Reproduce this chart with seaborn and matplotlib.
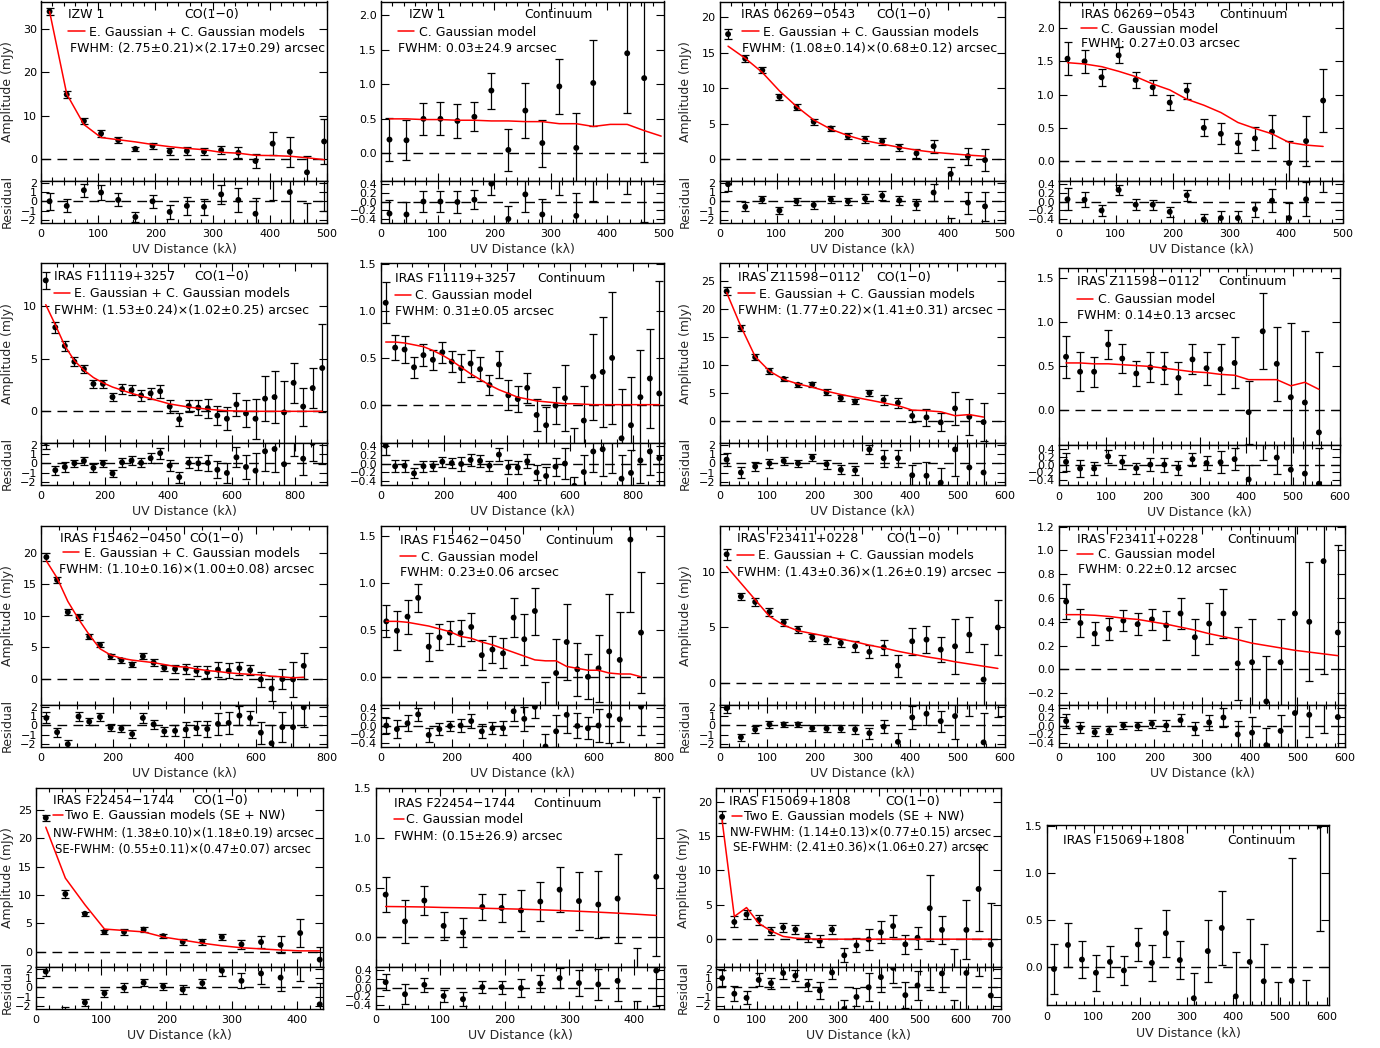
import numpy as np
import pandas as pd
import matplotlib
matplotlib.use("Agg")
import matplotlib.pyplot as plt
from matplotlib.lines import Line2D
from matplotlib.ticker import MultipleLocator, AutoMinorLocator, FuncFormatter, NullLocator
import seaborn as sns

# ---------------------------------------------------------------- data
# IZW 1 CO(1-0)
izw1_co_uv = [15, 45, 75, 105, 135, 165, 195, 225, 255, 285, 315, 345, 375, 405, 435, 465, 495]
izw1_co_amp = [34.0, 14.9, 8.8, 5.9, 4.4, 2.4, 3.1, 1.8, 1.9, 1.8, 2.1, 1.5, -0.4, 3.6, 1.7, -3.0, 4.1]
izw1_co_err = [0.9, 0.7, 0.7, 0.8, 0.7, 0.5, 0.7, 0.8, 1.0, 0.9, 1.0, 1.3, 1.7, 2.6, 3.4, 3.8, 5.2]
izw1_co_model = [34.0, 15.0, 8.0, 5.0, 4.5, 4.0, 3.4, 2.9, 2.5, 2.2, 1.6, 1.4, 0.9, 0.85, 0.7, 0.35, -0.1]
izw1_co_res = [0.0, -0.5, 1.2, 0.95, 0.15, -1.7, 0.0, -1.15, -0.5, -0.6, 0.75, 0.15, -1.35, 2.7, 1.0, -4.0, 4.2]

# IZW 1 continuum
izw1_ct_uv = [15, 45, 75, 105, 135, 165, 195, 225, 255, 285, 315, 345, 375, 435, 465]
izw1_ct_amp = [0.20, 0.19, 0.50, 0.50, 0.47, 0.53, 0.91, 0.05, 0.62, 0.15, 0.97, 0.08, 1.02, 1.45, 1.09]
izw1_ct_err = [0.31, 0.29, 0.23, 0.24, 0.24, 0.21, 0.26, 0.30, 0.40, 0.34, 0.40, 0.50, 0.62, 0.86, 1.21]
izw1_ct_model_uv = [15, 45, 75, 105, 135, 165, 195, 225, 255, 285, 315, 345, 375, 405, 435, 465, 495]
izw1_ct_model = [0.50, 0.50, 0.49, 0.49, 0.48, 0.48, 0.47, 0.47, 0.46, 0.46, 0.43, 0.43, 0.39, 0.42, 0.42, 0.33, 0.25]
izw1_ct_res = [-0.27, -0.29, 0.0, 0.0, -0.01, 0.04, 0.40, -0.39, 0.16, -0.29, 0.55, -0.32, 0.63, 1.03, 0.76]

# IRAS 06269-0543 CO(1-0)
i06269_co_uv = [15, 45, 75, 105, 135, 165, 195, 225, 255, 285, 315, 345, 375, 405, 435, 465]
i06269_co_amp = [17.6, 14.15, 12.5, 8.76, 7.3, 5.25, 4.3, 3.2, 2.75, 2.5, 1.65, 0.8, 1.8, -2.1, 0.4, -0.15]
i06269_co_err = [0.7, 0.5, 0.4, 0.4, 0.4, 0.4, 0.4, 0.4, 0.45, 0.5, 0.5, 0.6, 0.9, 1.0, 1.2, 1.6]
i06269_co_model = [15.9, 14.2, 12.2, 9.6, 7.4, 5.5, 4.2, 3.3, 2.6, 2.1, 1.65, 1.25, 0.95, 0.75, 0.55, 0.4]
i06269_co_res = [1.85, -0.6, 0.2, -1.0, 0.0, -0.4, 0.2, 0.0, 0.3, 0.6, 0.1, -0.35, 0.95, -2.85, -0.15, -0.55]

# IRAS 06269-0543 continuum
i06269_ct_uv = [15, 45, 75, 105, 135, 165, 195, 225, 255, 285, 315, 345, 375, 405, 435, 465]
i06269_ct_amp = [1.54, 1.50, 1.26, 1.59, 1.22, 1.11, 0.88, 1.06, 0.50, 0.41, 0.27, 0.34, 0.44, -0.03, 0.30, 0.91]
i06269_ct_err = [0.245, 0.17, 0.13, 0.12, 0.12, 0.11, 0.11, 0.12, 0.13, 0.16, 0.15, 0.17, 0.25, 0.33, 0.38, 0.48]
i06269_ct_model = [1.48, 1.46, 1.42, 1.35, 1.27, 1.16, 1.07, 0.93, 0.84, 0.73, 0.58, 0.49, 0.41, 0.28, 0.24, 0.22]
i06269_ct_res = [0.05, 0.04, -0.2, 0.26, -0.07, -0.07, -0.23, 0.14, -0.40, -0.37, -0.37, -0.17, 0.02, -0.37, 0.05, 0.69]

# IRAS F11119+3257 CO(1-0)
f11119_co_uv = [15, 45, 75, 105, 135, 165, 195, 225, 255, 285, 315, 345, 375, 405, 435,
                465, 495, 525, 555, 585, 615, 645, 675, 705, 735, 765, 795, 825, 855, 885]
f11119_co_amp = [12.4, 7.95, 6.2, 4.7, 4.0, 2.6, 2.6, 1.35, 2.1, 2.0, 1.5, 1.7, 1.9, 0.45, -0.75,
                 0.5, 0.35, 0.3, -0.4, -0.7, 0.65, -0.2, -0.7, 1.2, 1.35, -0.1, 2.7, 0.45, 2.2, 4.1]
f11119_co_err = [0.8, 0.5, 0.5, 0.4, 0.4, 0.4, 0.4, 0.4, 0.5, 0.5, 0.5, 0.55, 0.6, 0.6, 0.6,
                 0.6, 0.7, 0.9, 0.9, 1.1, 1.1, 1.3, 1.9, 2.1, 2.5, 3.0, 1.9, 1.8, 1.9, 4.2]
f11119_co_model = [10.1, 8.2, 6.2, 4.8, 3.9, 3.2, 2.7, 2.3, 2.0, 1.7, 1.45, 1.2, 0.95, 0.7, 0.55,
                   0.4, 0.3, 0.2, 0.12, 0.06, 0.03, 0.01, 0, 0, 0, 0, 0, 0, 0, 0]
f11119_co_res = [2.3, -0.75, -0.4, 0.0, 0.25, -0.5, 0.0, -1.1, 0.1, 0.3, 0.05, 0.55, 1.1, -0.25, -1.5,
                 0.05, 0.0, 0.05, -0.7, -1.05, 0.65, -0.4, -0.8, 1.3, 1.55, -0.1, 2.7, 0.5, 2.2, 4.1]

# IRAS F11119+3257 continuum
f11119_ct_uv = f11119_co_uv
f11119_ct_amp = [1.09, 0.61, 0.59, 0.40, 0.53, 0.48, 0.56, 0.46, 0.39, 0.44, 0.38, 0.21, 0.43, 0.10, 0.06,
                 0.18, -0.11, -0.22, -0.01, 0.07, -0.45, -0.17, 0.30, 0.35, 0.50, -0.36, -0.22, 0.08, 0.28, 0.12]
f11119_ct_err = [0.22, 0.13, 0.14, 0.11, 0.12, 0.11, 0.11, 0.11, 0.15, 0.14, 0.13, 0.11, 0.14, 0.16, 0.14,
                 0.16, 0.17, 0.2, 0.2, 0.35, 0.2, 0.37, 0.46, 0.59, 0.71, 0.53, 0.52, 0.51, 0.53, 1.2]
f11119_ct_model = [0.67, 0.67, 0.66, 0.64, 0.62, 0.58, 0.53, 0.47, 0.40, 0.33, 0.27, 0.21, 0.16, 0.12, 0.08,
                   0.06, 0.04, 0.03, 0.02, 0.01, 0.01, 0.005, 0, 0, 0, 0, 0, 0, 0, 0]
f11119_ct_res = [0.40, -0.06, -0.05, -0.22, -0.06, -0.06, 0.04, 0.01, -0.01, 0.08, 0.06, -0.05, 0.2, -0.08, -0.09,
                 0.05, -0.2, -0.28, -0.07, 0.0, -0.5, -0.19, 0.27, 0.32, 0.5, -0.34, -0.21, 0.07, 0.27, 0.12]

# IRAS Z11598-0112 CO(1-0)
z11598_co_uv = [15, 45, 75, 105, 135, 165, 195, 225, 255, 285, 315, 345, 375, 405, 435, 465, 495, 525, 555]
z11598_co_amp = [23.2, 16.65, 11.4, 8.9, 7.5, 6.45, 6.5, 5.1, 4.05, 3.45, 5.0, 3.7, 3.2, 0.85, 0.6, -0.3, 2.2, 0.7, -0.25]
z11598_co_err = [0.7, 0.6, 0.5, 0.5, 0.4, 0.4, 0.4, 0.5, 0.5, 0.5, 0.5, 0.9, 0.9, 1.1, 1.5, 1.6, 2.9, 3.2, 3.4]
z11598_co_model = [23.0, 16.9, 11.5, 8.9, 7.4, 6.6, 6.0, 5.3, 4.7, 4.2, 3.7, 3.2, 2.7, 1.9, 1.8, 1.6, 0.9, 1.1, 0.65]
z11598_co_res = [0.4, -1.0, -0.35, 0.0, 0.25, 0.0, 0.65, -0.1, -0.7, -0.75, 1.5, 0.55, 0.55, -1.3, -1.35, -2.1, 1.5, -0.45, -1.0]

# IRAS Z11598-0112 continuum
z11598_ct_uv = z11598_co_uv
z11598_ct_amp = [0.60, 0.43, 0.43, 0.74, 0.58, 0.41, 0.48, 0.47, 0.36, 0.57, 0.47, 0.46, 0.53, -0.03, 0.89, 0.52, 0.14, 0.08, -0.26]
z11598_ct_err = [0.24, 0.22, 0.17, 0.17, 0.17, 0.14, 0.17, 0.18, 0.18, 0.17, 0.19, 0.28, 0.29, 0.36, 0.43, 0.42, 0.84, 0.81, 0.92]
z11598_ct_model = [0.53, 0.53, 0.52, 0.52, 0.51, 0.50, 0.49, 0.47, 0.45, 0.43, 0.42, 0.40, 0.39, 0.34, 0.34, 0.34, 0.27, 0.31, 0.23]
z11598_ct_res = [0.07, -0.1, -0.1, 0.21, 0.07, -0.09, 0.0, 0.0, -0.09, 0.14, 0.04, 0.06, 0.14, -0.38, 0.55, 0.18, -0.13, -0.23, -0.49]

# IRAS F15462-0450 CO(1-0)
f15462_co_uv = [15, 45, 75, 105, 135, 165, 195, 225, 255, 285, 315, 345, 375, 405, 435,
                465, 495, 525, 555, 585, 615, 645, 675, 705, 735]
f15462_co_amp = [19.3, 15.7, 10.6, 9.8, 6.7, 5.4, 3.6, 3.0, 2.3, 3.6, 2.6, 1.75, 1.6, 1.65, 1.3,
                 1.1, 1.5, 1.3, 1.7, 1.4, -0.05, -1.5, 0.0, -0.05, 2.1]
f15462_co_err = [0.6, 0.5, 0.5, 0.5, 0.4, 0.4, 0.4, 0.4, 0.4, 0.5, 0.5, 0.5, 0.6, 0.8, 0.8,
                 0.9, 1.2, 1.2, 1.0, 0.8, 1.2, 2.0, 1.6, 2.8, 2.1]
f15462_co_model = [18.7, 16.0, 12.3, 9.5, 7.0, 4.8, 3.8, 3.3, 3.0, 2.8, 2.6, 2.3, 2.0, 1.9, 1.6,
                   1.35, 1.2, 1.0, 0.85, 0.75, 0.65, 0.45, 0.35, 0.2, 0.3]
f15462_co_res = [0.8, -0.75, -2.05, 0.95, 0.4, 0.9, -0.25, -0.35, -0.95, 0.8, 0.1, -0.65, -0.6, -0.45, -0.3,
                 -0.4, 0.15, 0.25, 1.05, 0.8, -0.8, -1.95, -0.2, -0.2, 1.95]

# IRAS F15462-0450 continuum
f15462_ct_uv = f15462_co_uv
f15462_ct_amp = [0.59, 0.49, 0.64, 0.84, 0.32, 0.42, 0.47, 0.465, 0.53, 0.23, 0.29, 0.25, 0.63, 0.40, 0.70,
                 -0.35, 0.04, 0.37, 0.08, 0.0, 0.09, 0.27, 0.18, 1.46, 0.47]
f15462_ct_err = [0.17, 0.21, 0.18, 0.15, 0.15, 0.14, 0.12, 0.14, 0.15, 0.16, 0.14, 0.16, 0.21, 0.27, 0.25,
                 0.29, 0.36, 0.40, 0.28, 0.24, 0.36, 0.61, 0.51, 0.77, 0.64]
f15462_ct_model = [0.59, 0.59, 0.58, 0.56, 0.54, 0.51, 0.48, 0.43, 0.41, 0.37, 0.34, 0.30, 0.26, 0.22, 0.18,
                   0.17, 0.17, 0.11, 0.09, 0.07, 0.07, 0.04, 0.03, 0.03, 0.0]
f15462_ct_res = [0.0, -0.08, 0.05, 0.25, -0.21, -0.08, -0.01, 0.0, 0.1, -0.13, -0.06, -0.06, 0.32, 0.15, 0.42,
                 -0.47, -0.13, 0.24, -0.01, -0.06, 0.0, 0.22, 0.14, 1.43, 0.42]

# IRAS F23411+0228 CO(1-0)
f23411_co_uv = [15, 45, 75, 105, 135, 165, 195, 225, 255, 285, 315, 345, 375, 405, 435, 465, 495, 525, 555, 585]
f23411_co_amp = [11.6, 7.8, 7.3, 6.4, 5.45, 4.8, 4.1, 3.85, 3.6, 3.3, 2.8, 3.2, 1.55, 3.75, 3.9, 3.0, 3.3, 4.35, 0.3, 5.0]
f23411_co_err = [0.5, 0.35, 0.35, 0.35, 0.3, 0.3, 0.3, 0.35, 0.4, 0.5, 0.6, 0.7, 1.0, 1.2, 1.25, 1.15, 2.5, 1.6, 3.2, 2.5]
f23411_co_model = [10.5, 9.0, 7.5, 6.0, 5.2, 4.7, 4.45, 4.2, 3.95, 3.7, 3.4, 3.15, 2.85, 2.6, 2.35, 2.15, 1.9, 1.7, 1.5, 1.3]
f23411_co_res = [1.85, -1.3, -0.45, 0.1, 0.1, 0.1, -0.3, -0.35, -0.35, -0.45, -0.85, -0.15, -1.8, 0.85, 1.25, 0.45, 1.0, 2.6, -1.85, 3.4]

# IRAS F23411+0228 continuum
f23411_ct_uv = f23411_co_uv
f23411_ct_amp = [0.57, 0.39, 0.30, 0.34, 0.41, 0.38, 0.42, 0.37, 0.47, 0.27, 0.385, 0.47, 0.05, 0.06, -0.27, 0.06, 0.47, 0.40, 0.91, 0.31]
f23411_ct_err = [0.15, 0.12, 0.095, 0.09, 0.085, 0.09, 0.085, 0.12, 0.13, 0.15, 0.175, 0.21, 0.31, 0.36, 0.38, 0.36, 1.0, 0.5, 0.95, 0.74]
f23411_ct_model = [0.46, 0.46, 0.455, 0.445, 0.43, 0.42, 0.40, 0.38, 0.355, 0.33, 0.30, 0.275, 0.25, 0.22, 0.20, 0.18, 0.16, 0.145, 0.13, 0.115]
f23411_ct_res = [0.1, -0.05, -0.15, -0.11, 0.0, -0.01, 0.04, 0.0, 0.12, -0.07, 0.07, 0.18, -0.2, -0.16, -0.44, -0.12, 0.28, 0.24, 0.78, 0.19]

# IRAS F22454-1744 CO(1-0)
f22454_co_uv = [15, 45, 75, 105, 135, 165, 195, 225, 255, 285, 315, 345, 375, 405, 435]
f22454_co_amp = [23.65, 10.2, 6.7, 3.5, 3.5, 3.9, 2.75, 1.75, 1.75, 2.6, 1.3, 1.7, 1.2, 3.3, -1.4]
f22454_co_err = [0.5, 0.7, 0.4, 0.4, 0.5, 0.4, 0.4, 0.5, 0.5, 0.6, 0.8, 1.1, 1.5, 2.5, 2.3]
f22454_co_model = [22.0, 13.0, 8.3, 4.0, 3.75, 3.5, 2.6, 2.05, 1.5, 1.05, 0.7, 0.5, 0.3, 0.15, 0.15]
f22454_co_res = [1.7, -2.8, -1.65, -0.65, -0.05, 0.5, 0.1, -0.25, 0.45, 1.8, 0.7, 1.5, 1.05, 3.2, -1.85]

# IRAS F22454-1744 continuum
f22454_ct_uv = f22454_co_uv
f22454_ct_amp = [0.43, 0.16, 0.37, 0.115, 0.047, 0.305, 0.295, 0.27, 0.36, 0.48, 0.365, 0.33, 0.39, -0.40, 0.61]
f22454_ct_err = [0.18, 0.22, 0.15, 0.14, 0.15, 0.135, 0.145, 0.21, 0.2, 0.23, 0.29, 0.34, 0.45, 0.29, 0.8]
f22454_ct_model = [0.31, 0.308, 0.305, 0.30, 0.297, 0.293, 0.288, 0.283, 0.277, 0.27, 0.262, 0.253, 0.243, 0.232, 0.22]
f22454_ct_res = [0.12, -0.15, 0.06, -0.19, -0.26, 0.01, 0.01, -0.01, 0.09, 0.21, 0.1, 0.07, 0.15, -0.6, 0.38]

# IRAS F15069+1808 CO(1-0)
f15069_co_uv = [15, 45, 75, 105, 135, 165, 195, 225, 255, 285, 315, 345, 375, 405, 435,
                465, 495, 525, 555, 585, 615, 645, 675]
f15069_co_amp = [17.8, 2.5, 3.6, 2.8, 1.15, 1.7, 1.4, 0.25, -0.25, 1.4, -2.35, -0.9, -0.05, 1.0, 1.9,
                 -0.75, 0.2, 4.5, 1.35, -4.5, 1.35, 7.3, -0.8]
f15069_co_err = [0.9, 0.8, 0.7, 0.7, 0.6, 0.6, 0.6, 0.7, 0.9, 0.7, 1.0, 1.0, 1.5, 1.6, 1.6,
                 1.4, 1.6, 4.8, 2.0, 3.1, 4.3, 6.1, 6.0]
f15069_co_model = [17.3, 3.3, 4.6, 2.3, 1.2, 0.4, 0.15, 0.05, 0, 0, 0, 0, 0, 0, 0,
                   0, 0, 0, 0, 0, 0, 0, 0]
f15069_co_res = [1.0, -0.7, -1.15, 0.8, 0.45, 1.55, 1.25, 0.25, -0.35, 1.6, -2.35, -1.05, 0.0, 1.1, 2.1,
                 -0.85, 0.2, 4.5, 1.5, -4.5, 1.55, 7.3, -0.9]

# IRAS F15069+1808 continuum
f15069_ct_uv = [15, 45, 75, 105, 135, 165, 195, 225, 255, 285, 315, 345, 375, 405, 435, 465, 495, 525, 555, 585]
f15069_ct_amp = [-0.02, 0.235, 0.08, -0.06, 0.055, -0.035, 0.24, 0.045, 0.36, 0.075, -0.33, 0.17, 0.415, -0.31, 0.055,
                 -0.15, -0.45, -0.145, -0.5, 1.5]
f15069_ct_err = [0.26, 0.235, 0.195, 0.19, 0.165, 0.155, 0.17, 0.19, 0.25, 0.205, 0.27, 0.33, 0.39, 0.47, 0.46,
                 0.40, 0.29, 1.3, 0.36, 1.12]

# ---------------------------------------------------------------- style
sns.set_theme(style="ticks")
plt.rcParams["font.family"] = ["DejaVu Sans"]
plt.rcParams["axes.linewidth"] = 1.0
plt.rcParams["axes.edgecolor"] = "black"
plt.rcParams["text.color"] = "black"

W, H = 1380, 1048
fig = plt.figure(figsize=(W / 100, H / 100), dpi=100)
FS = 9
TICK_FS = 8


def px_rect(l, r, t, b):
    return [l / W, 1 - b / H, (r - l) / W, (b - t) / H]


def fmt_minus(fmt):
    def f(v, pos):
        if abs(v) < 1e-9:
            v = 0.0
        return (fmt % v).replace("-", "\u2212")
    return FuncFormatter(f)


def style_axes(ax, xlim, xstep, ylim, ystep, yfmt, show_x):
    ax.set_xlim(*xlim)
    ax.set_ylim(*ylim)
    ax.xaxis.set_major_locator(MultipleLocator(xstep))
    ax.xaxis.set_minor_locator(AutoMinorLocator())
    ax.yaxis.set_major_locator(MultipleLocator(ystep))
    ax.yaxis.set_major_formatter(fmt_minus(yfmt))
    ax.xaxis.set_major_formatter(fmt_minus("%d"))
    ax.tick_params(which="both", direction="in", top=True, right=True, bottom=True, left=True,
                   colors="black", labelsize=TICK_FS, width=0.8)
    ax.tick_params(which="major", length=6)
    ax.tick_params(which="minor", length=3)
    ax.tick_params(axis="x", labelbottom=show_x, pad=5)
    ax.tick_params(axis="y", pad=3)
    ax.set_xlabel("")
    ax.set_ylabel("")
    for s in ax.spines.values():
        s.set_color("black")
        s.set_linewidth(1.0)
    ax.set_facecolor("white")


def draw_points(ax, uv, amp, err):
    df = pd.DataFrame({"uv": uv, "amp": amp, "err": err})
    ax.axhline(0, color="black", lw=1.0, ls=(0, (7, 4.5)), zorder=1)
    ax.errorbar(df["uv"], df["amp"], yerr=df["err"], fmt="none", ecolor="black",
                elinewidth=0.9, capsize=2.8, capthick=0.9, zorder=2)
    sns.scatterplot(data=df, x="uv", y="amp", ax=ax, color="black", s=18,
                    edgecolor="none", linewidth=0, legend=False, zorder=3)


def panel(box, xlim, xstep, ylim, ystep, uv, amp, err, model_uv=None, model=None, res=None,
          co=True, rlim=None, name="", tag="", name_pos=(0.06, 0.92), tag_x=0.55,
          leg=None, leg_pos=(0.06, 0.83), leg_hl=1.3, leg_pad=0.35, fwhm=(), fwhm_fs=FS,
          ylab_px=None, xlab_top_px=20.5):
    l, r, t, m, b = box
    yfmt = "%d" if co else "%.1f"
    if res is not None:
        ax = fig.add_axes(px_rect(l, r, t, m))
    else:
        ax = fig.add_axes(px_rect(l, r, t, b))
    draw_points(ax, uv, amp, err)
    if model is not None:
        mdf = pd.DataFrame({"uv": model_uv, "model": model})
        sns.lineplot(data=mdf, x="uv", y="model", ax=ax, color="red", lw=1.1,
                     estimator=None, sort=False, legend=False, zorder=4)
    style_axes(ax, xlim, xstep, ylim, ystep, yfmt, show_x=(res is None))
    main_h = (m if res is not None else b) - t
    ax.text(name_pos[0], name_pos[1], name, transform=ax.transAxes, fontsize=FS,
            va="center", ha="left")
    ax.text(tag_x, name_pos[1], tag, transform=ax.transAxes, fontsize=FS,
            va="center", ha="left")
    if leg is not None:
        h = Line2D([], [], color="red", lw=1.1)
        ax.legend([h], [leg], loc="upper left",
                  bbox_to_anchor=(leg_pos[0], leg_pos[1] + 7.0 / main_h),
                  frameon=False, fontsize=FS, handlelength=leg_hl, handletextpad=leg_pad,
                  borderaxespad=0, borderpad=0)
    for (fx, fy, ftxt) in fwhm:
        ax.text(fx, fy, ftxt, transform=ax.transAxes, fontsize=fwhm_fs, va="center", ha="left")

    if res is not None:
        axr = fig.add_axes(px_rect(l, r, m, b))
        draw_points(axr, uv, res, err)
        style_axes(axr, xlim, xstep, rlim, 1 if co else 0.2, yfmt, show_x=True)
        axr.yaxis.set_minor_locator(NullLocator())
        axr.set_xlabel("UV Distance (k\u03bb)", fontsize=FS)
        axr.xaxis.set_label_coords(0.5, -xlab_top_px / (b - m))
        if ylab_px is not None:
            ax.set_ylabel("Amplitude (mJy)", fontsize=FS)
            ax.yaxis.set_label_coords((ylab_px - l) / (r - l), 0.5)
            axr.set_ylabel("Residual", fontsize=FS)
            axr.yaxis.set_label_coords((ylab_px - l) / (r - l), 0.5)
    else:
        ax.set_xlabel("UV Distance (k\u03bb)", fontsize=FS)
        ax.xaxis.set_label_coords(0.5, -22.0 / (b - t))
    return ax


def row_box(row, l, r):
    base = 262 * row
    return (l, r, base + 1.5, base + 181, base + 222.5)


CO_RL = (-2.3, 2.2)
CT_RL = (-0.47, 0.46)
EC = "E. Gaussian + C. Gaussian models"
CG = "C. Gaussian model"
TWO = "Two E. Gaussian models (SE + NW)"
CO_TAG = "CO(1\u22120)"
CT_TAG = "Continuum"
C1, C3 = 14, 692

# ---------------------------------------------------------------- row 1
panel(row_box(0, 41, 327), (0, 500), 100, (-5, 36.3), 10, izw1_co_uv, izw1_co_amp, izw1_co_err,
      izw1_co_uv, izw1_co_model, izw1_co_res, True, CO_RL, "IZW 1", CO_TAG, (0.096, 0.93), 0.50,
      EC, (0.096, 0.826), fwhm=[(0.10, 0.737, "FWHM: (2.75\u00b10.21)\u00d7(2.17\u00b10.29) arcsec")],
      ylab_px=C1)
panel(row_box(0, 381, 664), (0, 500), 100, (-0.4, 2.2), 0.5, izw1_ct_uv, izw1_ct_amp, izw1_ct_err,
      izw1_ct_model_uv, izw1_ct_model, izw1_ct_res, False, CT_RL, "IZW 1", CT_TAG, (0.099, 0.93), 0.506,
      CG, (0.06, 0.826), fwhm=[(0.06, 0.737, "FWHM: 0.03\u00b124.9 arcsec")])
panel(row_box(0, 719.5, 1005), (0, 500), 100, (-3.1, 22.2), 5, i06269_co_uv, i06269_co_amp, i06269_co_err,
      i06269_co_uv, i06269_co_model, i06269_co_res, True, CO_RL, "IRAS 06269\u22120543", CO_TAG,
      (0.077, 0.93), 0.55, EC, (0.08, 0.826),
      fwhm=[(0.078, 0.737, "FWHM: (1.08\u00b10.14)\u00d7(0.68\u00b10.12) arcsec")], ylab_px=C3)
panel(row_box(0, 1059, 1343), (0, 500), 100, (-0.3, 2.4), 0.5, i06269_ct_uv, i06269_ct_amp, i06269_ct_err,
      i06269_ct_uv, i06269_ct_model, i06269_ct_res, False, CT_RL, "IRAS 06269\u22120543", CT_TAG,
      (0.079, 0.928), 0.566, CG, (0.076, 0.842), fwhm=[(0.079, 0.765, "FWHM: 0.27\u00b10.03 arcsec")])

# ---------------------------------------------------------------- row 2
panel(row_box(1, 41, 327), (0, 900), 200, (-3, 14), 5, f11119_co_uv, f11119_co_amp, f11119_co_err,
      f11119_co_uv, f11119_co_model, f11119_co_res, True, CO_RL, "IRAS F11119+3257", CO_TAG,
      (0.045, 0.93), 0.536, EC, (0.045, 0.83),
      fwhm=[(0.045, 0.74, "FWHM: (1.53\u00b10.24)\u00d7(1.02\u00b10.25) arcsec")], ylab_px=C1)
panel(row_box(1, 381, 664), (0, 900), 200, (-0.41, 1.51), 0.5, f11119_ct_uv, f11119_ct_amp, f11119_ct_err,
      f11119_ct_uv, f11119_ct_model, f11119_ct_res, False, CT_RL, "IRAS F11119+3257", CT_TAG,
      (0.049, 0.917), 0.553, CG, (0.049, 0.817), fwhm=[(0.049, 0.731, "FWHM: 0.31\u00b10.05 arcsec")])
panel(row_box(1, 719.5, 1005), (0, 600), 100, (-4, 28.2), 5, z11598_co_uv, z11598_co_amp, z11598_co_err,
      z11598_co_uv, z11598_co_model, z11598_co_res, True, CO_RL, "IRAS Z11598\u22120112", CO_TAG,
      (0.066, 0.922), 0.548, EC, (0.066, 0.826),
      fwhm=[(0.066, 0.737, "FWHM: (1.77\u00b10.22)\u00d7(1.41\u00b10.31) arcsec")], ylab_px=C3)
panel((1059, 1340, 268, 444.7, 485.3), (0, 600), 100, (-0.4, 1.61), 0.5, z11598_ct_uv, z11598_ct_amp,
      z11598_ct_err, z11598_ct_uv, z11598_ct_model, z11598_ct_res, False, (-0.53, 0.51),
      "IRAS Z11598\u22120112", CT_TAG, (0.064, 0.921), 0.565, CG, (0.064, 0.817),
      fwhm=[(0.064, 0.732, "FWHM: 0.14\u00b10.13 arcsec")])

# ---------------------------------------------------------------- row 3
panel(row_box(2, 41, 327), (0, 800), 200, (-4.1, 24.3), 5, f15462_co_uv, f15462_co_amp, f15462_co_err,
      f15462_co_uv, f15462_co_model, f15462_co_res, True, CO_RL, "IRAS F15462\u22120450", CO_TAG,
      (0.065, 0.927), 0.52, EC, (0.077, 0.843),
      fwhm=[(0.062, 0.756, "FWHM: (1.10\u00b10.16)\u00d7(1.00\u00b10.08) arcsec")], ylab_px=C1)
panel(row_box(2, 381, 664), (0, 800), 200, (-0.3, 1.61), 0.5, f15462_ct_uv, f15462_ct_amp, f15462_ct_err,
      f15462_ct_uv, f15462_ct_model, f15462_ct_res, False, CT_RL, "IRAS F15462\u22120450", CT_TAG,
      (0.067, 0.917), 0.58, CG, (0.067, 0.82), fwhm=[(0.067, 0.74, "FWHM: 0.23\u00b10.06 arcsec")])
panel(row_box(2, 719.5, 1005), (0, 600), 100, (-2, 14.2), 5, f23411_co_uv, f23411_co_amp, f23411_co_err,
      f23411_co_uv, f23411_co_model, f23411_co_res, True, CO_RL, "IRAS F23411+0228", CO_TAG,
      (0.063, 0.927), 0.584, EC, (0.063, 0.83),
      fwhm=[(0.063, 0.74, "FWHM: (1.43\u00b10.36)\u00d7(1.26\u00b10.19) arcsec")], ylab_px=C3)
panel(row_box(2, 1059, 1345), (0, 600), 100, (-0.3, 1.21), 0.2, f23411_ct_uv, f23411_ct_amp, f23411_ct_err,
      f23411_ct_uv, f23411_ct_model, f23411_ct_res, False, CT_RL, "IRAS F23411+0228", CT_TAG,
      (0.063, 0.922), 0.59, CG, (0.063, 0.833), fwhm=[(0.067, 0.754, "FWHM: 0.22\u00b10.12 arcsec")])

# ---------------------------------------------------------------- row 4
panel(row_box(3, 36, 323), (0, 440), 100, (-2.7, 29), 5, f22454_co_uv, f22454_co_amp, f22454_co_err,
      f22454_co_uv, f22454_co_model, f22454_co_res, True, CO_RL, "IRAS F22454\u22121744", CO_TAG,
      (0.058, 0.926), 0.548, TWO, (0.058, 0.841), leg_hl=0.8, leg_pad=0.2,
      fwhm=[(0.058, 0.745, "NW-FWHM: (1.38\u00b10.10)\u00d7(1.18\u00b10.19) arcsec"),
            (0.066, 0.652, "SE-FWHM: (0.55\u00b10.11)\u00d7(0.47\u00b10.07) arcsec")], fwhm_fs=8.4,
      ylab_px=14)
panel(row_box(3, 376, 664), (0, 447), 100, (-0.3, 1.51), 0.5, f22454_ct_uv, f22454_ct_amp, f22454_ct_err,
      f22454_ct_uv, f22454_ct_model, f22454_ct_res, False, CT_RL, "IRAS F22454\u22121744", CT_TAG,
      (0.062, 0.909), 0.546, CG, (0.062, 0.817), leg_hl=0.8, leg_pad=0.2,
      fwhm=[(0.062, 0.728, "FWHM: (0.15\u00b126.9) arcsec")])
panel(row_box(3, 716, 1001), (0, 700), 100, (-4.05, 22.07), 5, f15069_co_uv, f15069_co_amp, f15069_co_err,
      f15069_co_uv, f15069_co_model, f15069_co_res, True, CO_RL, "IRAS F15069+1808", CO_TAG,
      (0.047, 0.922), 0.595, TWO, (0.055, 0.834), leg_hl=0.8, leg_pad=0.2,
      fwhm=[(0.05, 0.75, "NW-FWHM: (1.14\u00b10.13)\u00d7(0.77\u00b10.15) arcsec"),
            (0.06, 0.668, "SE-FWHM: (2.41\u00b10.36)\u00d7(1.06\u00b10.27) arcsec")], fwhm_fs=8.4,
      ylab_px=690)
panel((1047, 1329, 825, 1005.3, 1005.3), (0, 605), 100, (-0.405, 1.507), 0.5, f15069_ct_uv,
      f15069_ct_amp, f15069_ct_err, co=False, name="IRAS F15069+1808", tag=CT_TAG,
      name_pos=(0.057, 0.913), tag_x=0.638)

fig.savefig("out.png", dpi=100, facecolor="white")
